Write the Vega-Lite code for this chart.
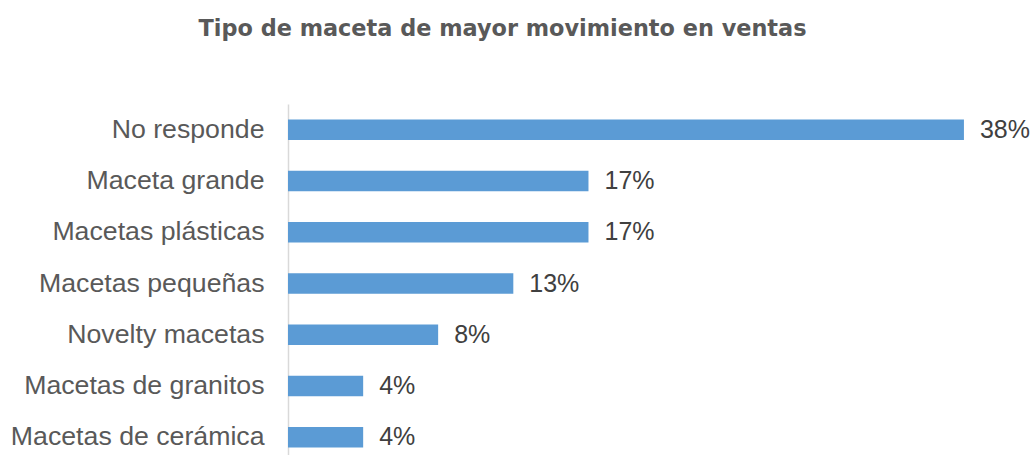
{
  "$schema": "https://vega.github.io/schema/vega-lite/v6.json",
  "width": 721,
  "height": 359,
  "autosize": {"type": "none"},
  "padding": {"left": 288, "top": 104, "right": 27, "bottom": 0},
  "background": "white",
  "config": {"view": {"stroke": null}, "font": "Liberation Sans"},
  "title": {
    "text": "Tipo de maceta de mayor movimiento en ventas",
    "fontSize": 22.4,
    "fontWeight": "bold",
    "color": "#595959",
    "font": "DejaVu Sans",
    "anchor": "middle",
    "dx": -146,
    "offset": 64
  },
  "data": {
    "values": [
      {"tipo": "No responde", "pct": 0.375},
      {"tipo": "Maceta grande", "pct": 0.1667},
      {"tipo": "Macetas plásticas", "pct": 0.1667},
      {"tipo": "Macetas pequeñas", "pct": 0.125},
      {"tipo": "Novelty macetas", "pct": 0.0833},
      {"tipo": "Macetas de granitos", "pct": 0.0417},
      {"tipo": "Macetas de cerámica", "pct": 0.0417}
    ]
  },
  "encoding": {
    "y": {
      "field": "tipo",
      "type": "nominal",
      "sort": null,
      "scale": {"paddingInner": 0.6, "paddingOuter": 0.3},
      "axis": {
        "title": null,
        "ticks": false,
        "labelPadding": 24,
        "labelFontSize": 26.7,
        "labelColor": "#595959",
        "labelFont": "Liberation Sans",
        "domainColor": "#d9d9d9",
        "domainWidth": 1.5,
        "labelLimit": 400,
        "labelOffset": 0
      }
    },
    "x": {
      "field": "pct",
      "type": "quantitative",
      "scale": {"domain": [0, 0.4]},
      "axis": null
    }
  },
  "layer": [
    {"mark": {"type": "bar", "color": "#5B9BD5"}},
    {
      "mark": {
        "type": "text",
        "align": "left",
        "baseline": "middle",
        "dx": 16,
        "fontSize": 25,
        "color": "#404040",
        "font": "Liberation Sans"
      },
      "encoding": {"text": {"field": "pct", "type": "quantitative", "format": ".0%"}}
    }
  ]
}
